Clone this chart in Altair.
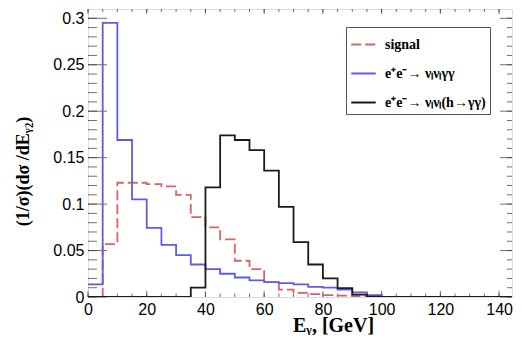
import altair as alt
import pandas as pd

# ---- data ----
bin_left = [0, 5, 10, 15, 20, 25, 30, 35, 40, 45, 50, 55, 60, 65, 70, 75, 80, 85, 90, 95]
bin_end = 100
signal = [0.0, 0.057, 0.123, 0.123, 0.1216, 0.119, 0.110, 0.086, 0.075, 0.062,
          0.039, 0.030, 0.016, 0.008, 0.0045, 0.003, 0.002, 0.0015, 0.001, 0.0005]
nngg = [0.0135, 0.295, 0.169, 0.105, 0.0745, 0.056, 0.045, 0.035, 0.030, 0.025,
        0.021, 0.018, 0.016, 0.015, 0.0135, 0.011, 0.010, 0.008, 0.005, 0.002]
nnh = [0.0, 0.0, 0.0, 0.0, 0.0, 0.0, 0.0, 0.010, 0.118, 0.174,
       0.169, 0.158, 0.136, 0.097, 0.059, 0.035, 0.020, 0.0096, 0.0025, 0.0005]

series_names = ["signal", "e⁺e⁻→ νₗνₗγγ", "e⁺e⁻→ νₗνₗ(h→γγ)"]
series_values = [signal, nngg, nnh]
series_colors = ["#d86464", "#5c5ce6", "#1a1a1a"]

x_labels = [0, 20, 40, 60, 80, 100, 120, 140]
x_minor = [0, 5, 10, 15, 20, 25, 30, 35, 40, 45, 50, 55, 60, 65, 70, 75, 80, 85, 90,
           95, 100, 105, 110, 115, 120, 125, 130, 135, 140]
y_labels = [0, 0.05, 0.1, 0.15, 0.2, 0.25, 0.3]
y_minor = [0, 0.01, 0.02, 0.03, 0.04, 0.05, 0.06, 0.07, 0.08, 0.09, 0.1, 0.11, 0.12,
           0.13, 0.14, 0.15, 0.16, 0.17, 0.18, 0.19, 0.2, 0.21, 0.22, 0.23, 0.24, 0.25,
           0.26, 0.27, 0.28, 0.29, 0.3]

XMAX = 144.4
YMAX = 0.31

rows = []
for name, vals in zip(series_names, series_values):
    for xl, v in zip(bin_left, vals):
        rows.append({"series": name, "E": xl, "v": v})
    rows.append({"series": name, "E": bin_end, "v": 0.0})
    rows.append({"series": name, "E": XMAX, "v": 0.0})
df = pd.DataFrame(rows)

xscale = alt.Scale(domain=[0, XMAX], nice=False, zero=False)
yscale = alt.Scale(domain=[0, YMAX], nice=False, zero=False)

x_axis = alt.Axis(values=x_labels, ticks=False, domain=False, grid=False,
                  labelFont="Liberation Sans", labelFontSize=16, labelColor="black",
                  labelPadding=4, labelFlush=False, labelOverlap=False,
                  title="Eᵧ, [GeV]", titleFont="Liberation Serif", titleFontSize=20,
                  titleFontWeight="bold", titleColor="black",
                  titleX=245, titleY=34, titleBaseline="alphabetic")
y_axis = alt.Axis(values=y_labels, format="~g", ticks=False, domain=False, grid=False,
                  labelFont="Liberation Sans", labelFontSize=16, labelColor="black",
                  labelPadding=4, labelFlush=False, labelOverlap=False,
                  title="(1/σ)(dσ /dEᵧ₂)", titleFont="Liberation Serif", titleFontSize=18,
                  titleFontWeight="bold", titleColor="black",
                  titleX=-65, titleY=162, titleBaseline="middle")

lines = alt.Chart(df).mark_line(interpolate="step-after", strokeWidth=1.8, clip=True).encode(
    x=alt.X("E:Q", scale=xscale, axis=x_axis),
    y=alt.Y("v:Q", scale=yscale, axis=y_axis),
    color=alt.Color("series:N", scale=alt.Scale(domain=series_names, range=series_colors),
                    legend=alt.Legend(title=None, orient="none", legendX=258, legendY=18,
                                      symbolType="stroke", symbolSize=600, symbolStrokeWidth=2,
                                      labelFont="Liberation Serif", labelFontSize=14,
                                      labelFontWeight="bold", labelColor="black",
                                      labelOffset=8, rowPadding=8, padding=4,
                                      strokeColor="#555555", fillColor="white",
                                      labelLimit=300)),
    strokeDash=alt.StrokeDash("series:N",
                              scale=alt.Scale(domain=series_names, range=[[10, 4], [1, 0], [1, 0]]),
                              legend=alt.Legend(title=None)),
    order=alt.Order("E:Q"),
)

tick_color = "#333333"
xt = pd.DataFrame({"t": x_minor})
xT = pd.DataFrame({"t": x_labels})
yt = pd.DataFrame({"t": y_minor})
yT = pd.DataFrame({"t": y_labels})


def vtick(data, ypos, length, sign):
    return alt.Chart(data).mark_tick(orient="vertical", size=length, thickness=1,
                                     yOffset=sign * length / 2, color=tick_color).encode(
        x=alt.X("t:Q", scale=xscale), y=alt.datum(ypos, scale=yscale))


def htick(data, xpos, length, sign):
    return alt.Chart(data).mark_tick(orient="horizontal", size=length, thickness=1,
                                     xOffset=sign * length / 2, color=tick_color).encode(
        y=alt.Y("t:Q", scale=yscale), x=alt.datum(xpos, scale=xscale))


ticks = [
    vtick(xt, 0, 3.5, -1), vtick(xT, 0, 6, -1),
    vtick(xt, YMAX, 3, 1), vtick(xT, YMAX, 5, 1),
    htick(yt, 0, 9, 1), htick(yT, 0, 19, 1),
    htick(yt, XMAX, 5, -1), htick(yT, XMAX, 12, -1),
]

chart = alt.layer(*ticks, lines).properties(
    width=424, height=288,
    padding={"left": 6, "top": 1, "right": 0, "bottom": 0},
).configure_view(stroke="#333333", strokeWidth=1.3).configure(background="white")

chart.save("out.html", embed_options={"renderer": "svg", "actions": False})
